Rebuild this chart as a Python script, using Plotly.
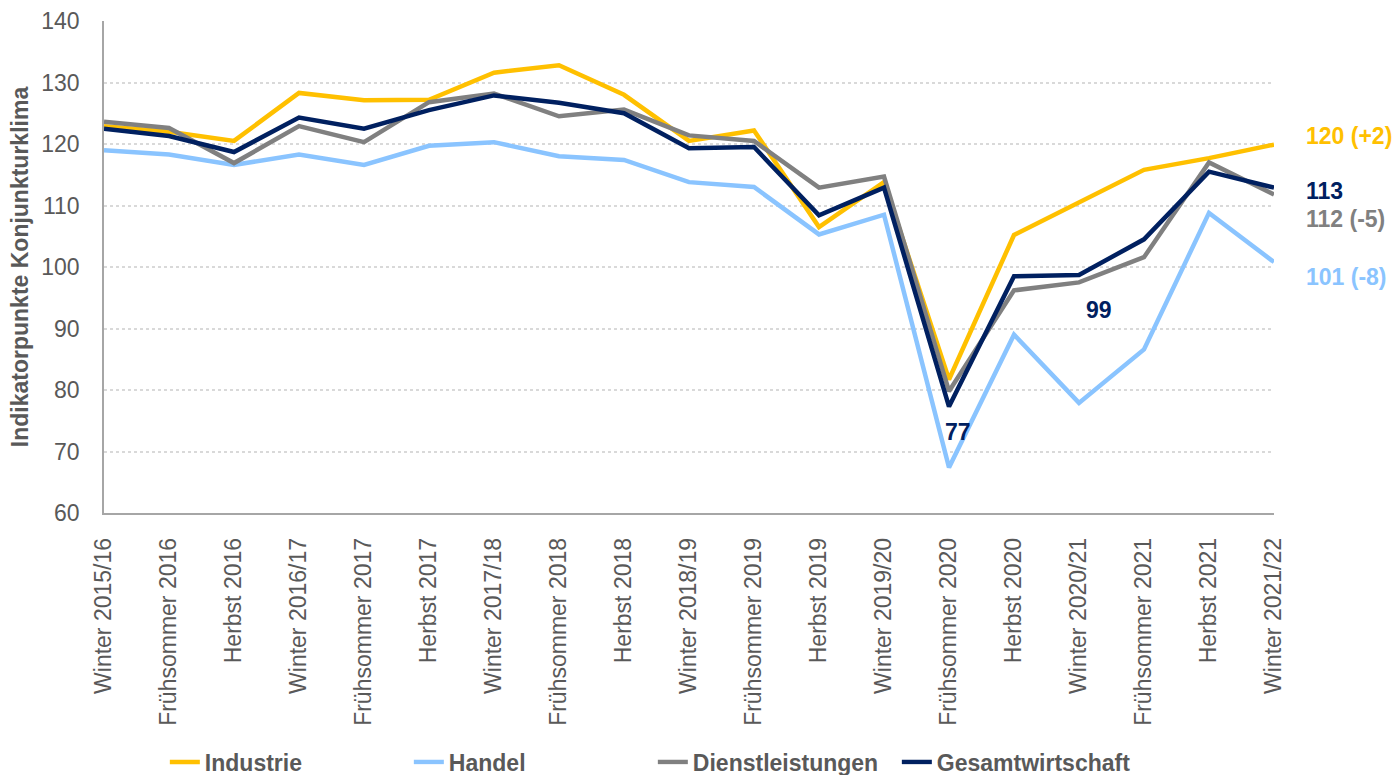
import plotly.graph_objects as go

categories = ["Winter 2015/16", "Frühsommer 2016", "Herbst 2016", "Winter 2016/17",
              "Frühsommer 2017", "Herbst 2017", "Winter 2017/18", "Frühsommer 2018",
              "Herbst 2018", "Winter 2018/19", "Frühsommer 2019", "Herbst 2019",
              "Winter 2019/20", "Frühsommer 2020", "Herbst 2020", "Winter 2020/21",
              "Frühsommer 2021", "Herbst 2021", "Winter 2021/22"]

industrie = [122.9, 122.0, 120.5, 128.3, 127.1, 127.2, 131.6, 132.8, 128.0, 120.5,
             122.2, 106.5, 113.8, 81.7, 105.2, 110.4, 115.8, 117.7, 119.9]
handel = [119.0, 118.3, 116.6, 118.3, 116.6, 119.7, 120.3, 118.0, 117.4, 113.8,
          113.0, 105.3, 108.5, 67.4, 89.0, 77.9, 86.6, 108.8, 100.8]
dienstleistungen = [123.6, 122.6, 116.9, 122.9, 120.3, 126.8, 128.2, 124.5, 125.6, 121.4,
                    120.5, 112.9, 114.7, 79.8, 96.2, 97.5, 101.6, 117.0, 111.8]
gesamtwirtschaft = [122.5, 121.3, 118.7, 124.3, 122.5, 125.5, 127.9, 126.7, 125.0, 119.3,
                    119.5, 108.4, 112.9, 77.3, 98.5, 98.7, 104.5, 115.5, 112.9]

series_names = ["Industrie", "Handel", "Dienstleistungen", "Gesamtwirtschaft"]
series_values = [industrie, handel, dienstleistungen, gesamtwirtschaft]
series_colors = ["#FFC000", "#8AC4FF", "#808080", "#002060"]
changes = [2, -8, -5, None]
end_label_yshift = [9, -15, -25, -3]

y_ticks = [60, 70, 80, 90, 100, 110, 120, 130, 140]

TEXT = "#595959"
FONT = "Liberation Sans, Arial, sans-serif"

fig = go.Figure()
for name, vals, col in zip(series_names, series_values, series_colors):
    fig.add_trace(go.Scatter(
        x=categories, y=vals, mode="lines", name=name,
        line=dict(color=col, width=4.5), cliponaxis=False,
    ))

annotations = []
for name, vals, col, ch, ys in zip(series_names, series_values, series_colors, changes, end_label_yshift):
    v = round(vals[-1])
    txt = f"{v}" if ch is None else f"{v} ({ch:+d})"
    annotations.append(dict(
        x=categories[-1], y=vals[-1], xref="x", yref="y", text=f"<b>{txt}</b>",
        showarrow=False, xanchor="left", yanchor="middle", xshift=30, yshift=ys,
        font=dict(family=FONT, size=23, color=col),
    ))

# point labels for Gesamtwirtschaft
for idx, xs, ys in [(13, 9, -25), (15, 20, -35)]:
    annotations.append(dict(
        x=categories[idx], y=gesamtwirtschaft[idx], xref="x", yref="y",
        text=f"<b>{round(gesamtwirtschaft[idx])}</b>", showarrow=False,
        xanchor="center", yanchor="middle", xshift=xs, yshift=ys,
        font=dict(family=FONT, size=23, color="#002060"),
    ))

fig.update_layout(
    width=1395, height=775,
    margin=dict(l=104, r=121, t=21, b=262, autoexpand=False),
    plot_bgcolor="white", paper_bgcolor="white",
    font=dict(family=FONT, color=TEXT),
    showlegend=True,
    legend=dict(orientation="h", x=0.052, xanchor="left", y=-0.506, yanchor="middle",
                font=dict(family=FONT, size=23, color=TEXT, weight="bold"),
                itemwidth=30, tracegroupgap=0, entrywidth=199, entrywidthmode="pixels"),
    annotations=annotations,
)
fig.update_xaxes(
    type="category", range=[0, len(categories) - 1], automargin=False,
    showline=True, linecolor="#A6A6A6", linewidth=1.5,
    showgrid=False, ticks="", tickangle=-90,
    tickfont=dict(family=FONT, size=23, color=TEXT), ticklabelstandoff=14,
)
fig.update_yaxes(
    range=[60, 140], tickvals=y_ticks, ticktext=[str(t) for t in y_ticks],
    automargin=False,
    showline=True, linecolor="#A6A6A6", linewidth=1.5,
    showgrid=True, gridcolor="#D9D9D9", griddash="dot", gridwidth=1.5,
    zeroline=False, ticks="",
    tickfont=dict(family=FONT, size=23, color=TEXT), ticklabelstandoff=18,
    title=dict(text="<b>Indikatorpunkte Konjunkturklima</b>",
               font=dict(family=FONT, size=23, color=TEXT), standoff=6),
)

fig.write_html("out.html", config={"displayModeBar": False},
               post_script="document.body.style.margin='0px';document.body.style.overflow='hidden';")
